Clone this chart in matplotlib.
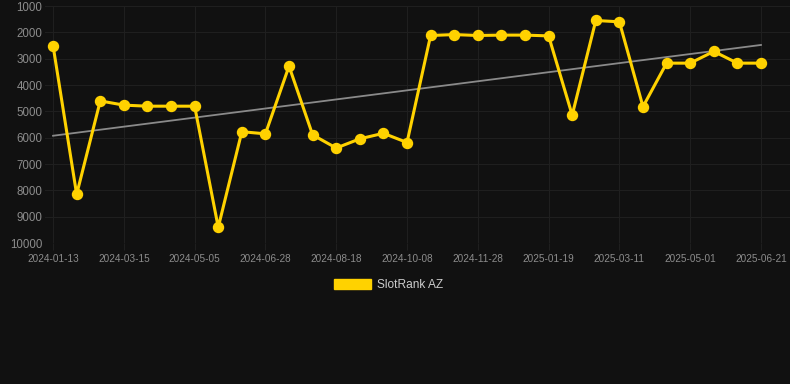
import numpy as np
import matplotlib.pyplot as plt
from matplotlib.patches import Patch

# rank values, one per week-ish sample (lower = better)
ranks = [2500, 8150, 4600, 4760, 4800, 4800, 4800, 9400, 5770, 5850,
         3280, 5890, 6390, 6040, 5830, 6180, 2115, 2080, 2115, 2100,
         2100, 2130, 5140, 1545, 1595, 4820, 3165, 3165, 2720, 3165, 3165]
tick_labels = ['2024-01-13', '2024-03-15', '2024-05-05', '2024-06-28',
               '2024-08-18', '2024-10-08', '2024-11-28', '2025-01-19',
               '2025-03-11', '2025-05-01', '2025-06-21']
y_ticks = [1000, 2000, 3000, 4000, 5000, 6000, 7000, 8000, 9000, 10000]
series_name = 'SlotRank AZ'

BG = '#111111'
GOLD = '#ffd200'
GRID = '#1f1f1f'

plt.rcParams['font.family'] = ['Liberation Sans', 'DejaVu Sans']

fig = plt.figure(figsize=(7.9, 3.84), dpi=100, facecolor=BG)
ax = fig.add_axes([0.057, 0.367, 0.943, 0.617], facecolor=BG)

x = np.arange(len(ranks))

# trend line
coef = np.polyfit(x, ranks, 1)
ax.plot(x, np.polyval(coef, x), color='#8a8a8a', lw=1.3, zorder=2)

ax.plot(x, ranks, color=GOLD, lw=2.2, marker='o', markersize=7.2,
        zorder=3, clip_on=False)

ax.set_ylim(10000, 1000)
ax.set_xlim(-0.34, 31.23)
ax.set_yticks(y_ticks)
ax.set_yticklabels([str(v) for v in y_ticks])
ax.set_xticks(x[::3])
ax.set_xticklabels(tick_labels)

ax.grid(True, color=GRID, lw=0.8, zorder=0)
for s in ax.spines.values():
    s.set_visible(False)
ax.tick_params(axis='y', length=0, labelsize=8.3, colors='#8c8c8c', pad=2)
ax.tick_params(axis='x', length=5, color=GRID, labelsize=7.2,
               labelcolor='#8c8c8c', pad=3)

handle = Patch(facecolor=GOLD, edgecolor=GOLD)
fig.legend([handle], [series_name], loc='center', bbox_to_anchor=(0.4915, 0.258),
           frameon=False, fontsize=8.6, labelcolor='#cccccc',
           handlelength=3.1, handleheight=0.9, handletextpad=0.5)

fig.savefig('out.png', dpi=100, facecolor=BG)
